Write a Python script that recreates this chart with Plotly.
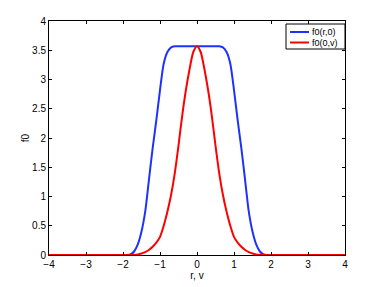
import plotly.graph_objects as go

# f0(r,0)
r_vals = [-4.0, -2.0, -1.9, -1.8, -1.7, -1.6, -1.5, -1.4, -1.3, -1.2, -1.1, -1.0, -0.9, -0.8, -0.7, -0.6, -0.5, -0.3, 0.0,
          0.3, 0.5, 0.6, 0.7, 0.8, 0.9, 1.0, 1.1, 1.2, 1.3, 1.4, 1.5, 1.6, 1.7, 1.8, 1.9, 2.0, 4.0]
f_r = [0.0, 0.0, 0.0, 0.01, 0.06, 0.18, 0.40, 0.74, 1.28, 1.82, 2.30, 2.82, 3.27, 3.47, 3.55, 3.567, 3.57, 3.57, 3.57,
       3.57, 3.57, 3.567, 3.55, 3.47, 3.27, 2.82, 2.30, 1.82, 1.28, 0.74, 0.40, 0.18, 0.06, 0.01, 0.0, 0.0, 0.0]

# f0(0,v)
v_vals = [-4.0, -1.8, -1.7, -1.6, -1.5, -1.4, -1.3, -1.2, -1.1, -1.0, -0.9, -0.8, -0.7, -0.6, -0.5, -0.4, -0.3, -0.2, -0.1, 0.0,
          0.1, 0.2, 0.3, 0.4, 0.5, 0.6, 0.7, 0.8, 0.9, 1.0, 1.1, 1.2, 1.3, 1.4, 1.5, 1.6, 1.7, 1.8, 4.0]
f_v = [0.0, 0.0, 0.003, 0.01, 0.025, 0.05, 0.085, 0.14, 0.21, 0.31, 0.50, 0.74, 1.03, 1.40, 1.87, 2.38, 2.82, 3.18, 3.47, 3.57,
       3.47, 3.18, 2.82, 2.38, 1.87, 1.40, 1.03, 0.74, 0.50, 0.31, 0.21, 0.14, 0.085, 0.05, 0.025, 0.01, 0.003, 0.0, 0.0]

series_names = ["f0(r,0)", "f0(0,v)"]
series_colors = ["rgb(30,50,255)", "rgb(255,0,0)"]

x_ticks = [-4, -3, -2, -1, 0, 1, 2, 3, 4]
y_ticks = [0, 0.5, 1, 1.5, 2, 2.5, 3, 3.5, 4]
y_tick_text = ["0", "0.5", "1", "1.5", "2", "2.5", "3", "3.5", "4"]
x_tick_text = ["\u22124", "\u22123", "\u22122", "\u22121", "0", "1", "2", "3", "4"]

FONT = "Liberation Sans, Arial, sans-serif"

fig = go.Figure()
for xs, ys, nm, col in [(r_vals, f_r, series_names[0], series_colors[0]),
                        (v_vals, f_v, series_names[1], series_colors[1])]:
    fig.add_trace(go.Scatter(x=xs, y=ys, mode="lines", name=nm, showlegend=False,
                             line=dict(color=col, width=2, shape="spline", smoothing=0.7)))

axis_common = dict(showgrid=False, zeroline=False, showline=True, linecolor="black", linewidth=1,
                   mirror="ticks", ticks="inside", ticklen=3, tickcolor="black", automargin=False,
                   tickfont=dict(family=FONT, size=10, color="black"))

# page offset (body margin) compensated: figure drawn 8px in from the top-left
W, H = 374, 279
L, R, T, B = 41, 37, 13, 32
pw, ph = W - L - R, H - T - B

def px_x(px):  # picture x -> paper x
    return (px - 8 - L) / pw

def px_y(py):  # picture y -> paper y
    return (H - B - (py - 8)) / ph

# legend box drawn as shapes + text
shapes = [dict(type="rect", xref="paper", yref="paper",
               x0=px_x(286), x1=1.0, y0=px_y(49), y1=px_y(24),
               line=dict(color="black", width=1), fillcolor="white", layer="above")]
annotations = []
for i, (nm, col) in enumerate(zip(series_names, series_colors)):
    yy = px_y(32 + i * 10.5)
    shapes.append(dict(type="line", xref="paper", yref="paper",
                       x0=px_x(290), x1=px_x(309), y0=yy, y1=yy,
                       line=dict(color=col, width=2), layer="above"))
    annotations.append(dict(text=nm, xref="paper", yref="paper", x=px_x(310), y=yy,
                            xanchor="left", yanchor="middle", showarrow=False,
                            font=dict(family=FONT, size=9, color="black")))

fig.update_layout(
    width=W, height=H,
    margin=dict(l=L, r=R, t=T, b=B, autoexpand=False),
    paper_bgcolor="white", plot_bgcolor="white",
    font=dict(family=FONT, size=10, color="black"),
    xaxis=dict(range=[-4, 4], tickvals=x_ticks, ticktext=x_tick_text,
               title=dict(text="r, v", standoff=0, font=dict(size=10)), **axis_common),
    yaxis=dict(range=[0, 4], tickvals=y_ticks, ticktext=y_tick_text,
               title=dict(text="f0", standoff=0, font=dict(size=10)), **axis_common),
    shapes=shapes,
    annotations=annotations,
    showlegend=False,
)

fig.write_html("out.html")
